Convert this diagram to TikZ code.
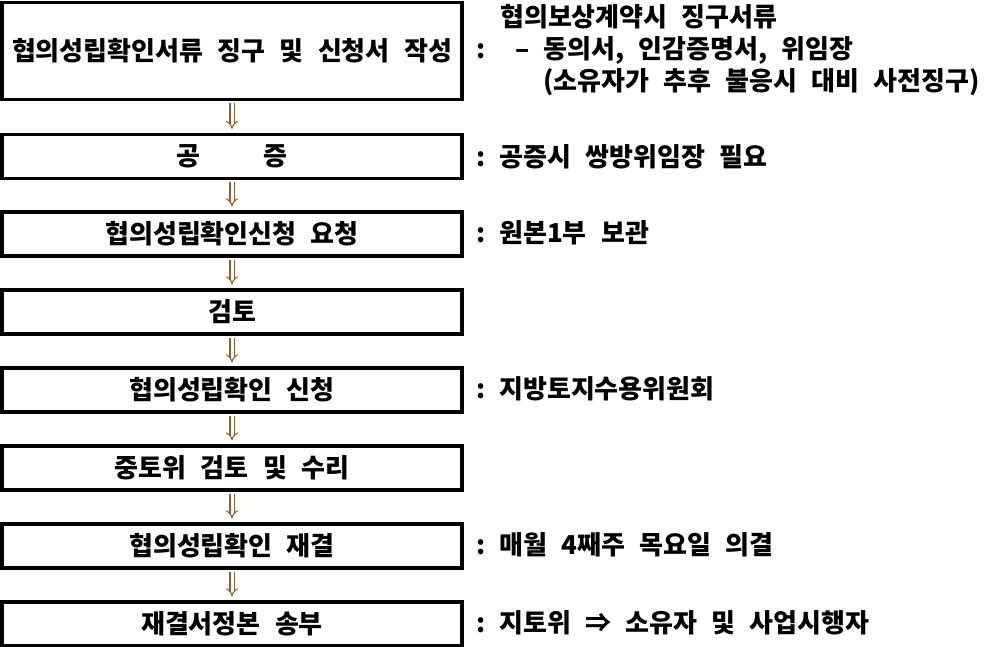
\documentclass[tikz,border=0pt]{standalone}
\usepackage{fontspec}
\usepackage{tikz}
\usetikzlibrary{arrows.meta,positioning}
\newfontfamily\krfont{Noto Sans CJK KR}
\newcommand\krtext{\krfont\bfseries\fontsize{26}{30}\selectfont\spaceskip=0.55em\relax}
\tikzset{
  stepbox/.style={draw,line width=3.1pt,minimum width=460pt,minimum height=44pt,inner sep=0pt,font=\krtext},
  note/.style   ={anchor=west,inner sep=0pt,font=\krtext},
  dn/.style     ={draw=brown!75!black,line width=1.1pt,double=white,double distance=3pt,
                  -{Implies[scale=1.6]},shorten <=2pt,shorten >=4pt},
}
\begin{document}
\begin{tikzpicture}[x=1pt,y=-1pt]
  \useasboundingbox (0,0) rectangle (991,647);
  % steps
  \node[stepbox,minimum height=97pt] (apply) at (232,51){협의성립확인서류 징구 및 신청서 작성};
  \node[stepbox] (notary)  at (232,156.5){공\hspace{2.4em}증};
  \node[stepbox] (request) at (232,234){협의성립확인신청 요청};
  \node[stepbox] (review)  at (232,312){검토};
  \node[stepbox] (confirm) at (232,390){협의성립확인 신청};
  \node[stepbox] (central) at (232,468){중토위 검토 및 수리};
  \node[stepbox] (decide)  at (232,546){협의성립확인 재결};
  \node[stepbox] (send)    at (232,624){재결서정본 송부};
  \foreach \a/\b in {apply/notary,notary/request,request/review,review/confirm,
                     confirm/central,central/decide,decide/send}
    \draw[dn] (\a) -- (\b);
  % notes
  \node[note] (docsA) at (500,17){협의보상계약시 징구서류};
  \node[note] (docsB) at (476,50){:\hspace{30pt}–\hspace{14pt}동의서, 인감증명서, 위임장};
  \node[note] (docsC) at (543,82){(소유자가 추후 불응시 대비 사전징구)};
  \node[note] (notaryN)  at (476,157){:\hspace{14pt}공증시 쌍방위임장 필요};
  \node[note] (requestN) at (476,233){:\hspace{14pt}원본1부 보관};
  \node[note] (confirmN) at (476,389){:\hspace{14pt}지방토지수용위원회};
  \node[note] (decideN)  at (476,545){:\hspace{14pt}매월 4째주 목요일 의결};
  \node[note] (sendN)    at (476,623){:\hspace{14pt}지토위 ⇒ 소유자 및 사업시행자};
\end{tikzpicture}
\end{document}
